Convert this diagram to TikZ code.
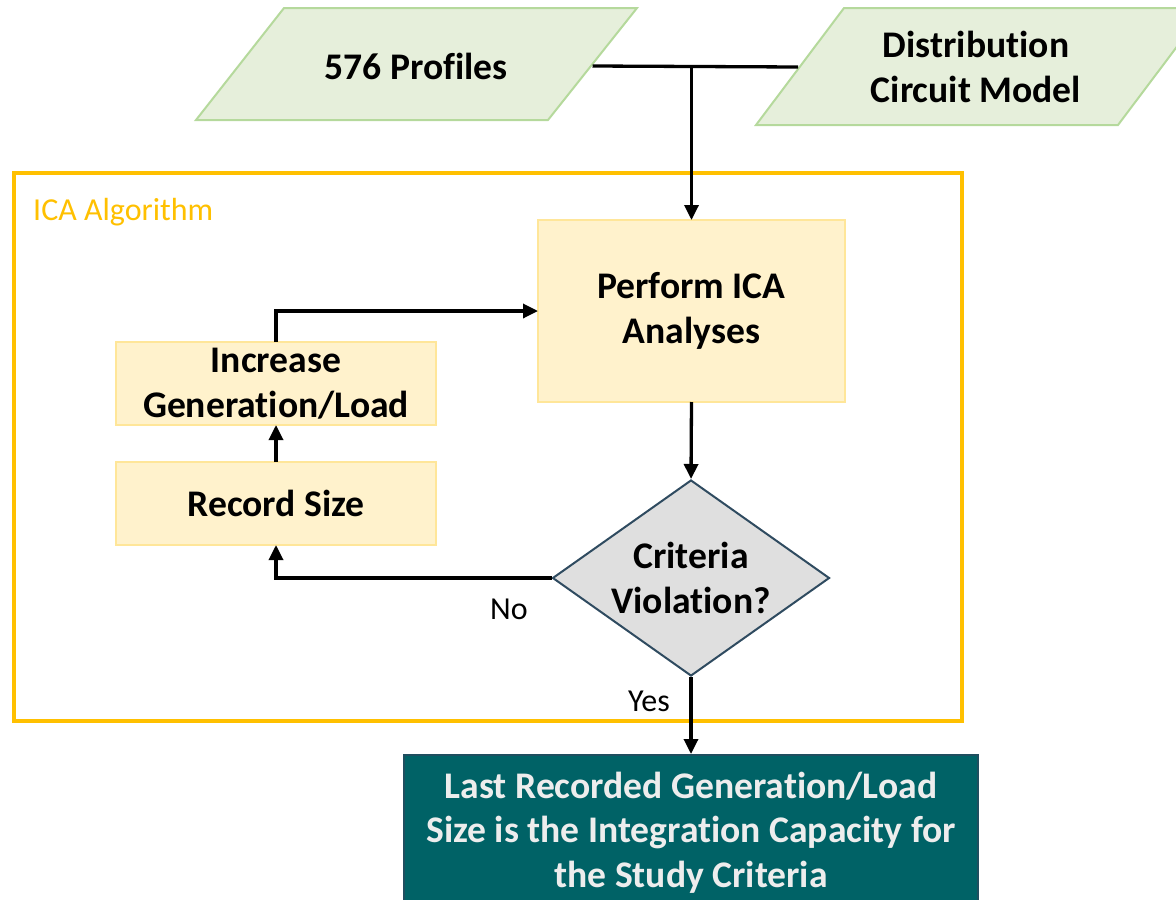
\documentclass[tikz,border=0pt]{standalone}
\usepackage{fontspec}
\setmainfont[Ligatures=NoCommon]{Carlito}
\usetikzlibrary{arrows.meta,shapes.geometric,calc}
\definecolor{pgfill}{HTML}{E6EFDB}
\definecolor{pgline}{HTML}{B5D99C}
\definecolor{icaorange}{HTML}{FFC000}
\definecolor{boxfill}{HTML}{FFF2CC}
\definecolor{boxline}{HTML}{FFE699}
\definecolor{diafill}{HTML}{DFDFDF}
\definecolor{dialine}{HTML}{2F4B60}
\definecolor{tealfill}{HTML}{006266}
\definecolor{tealline}{HTML}{1F4E5F}
\definecolor{lighttext}{HTML}{EDEDED}
\newcommand\bigtxt{\fontsize{37.6}{44.5}\selectfont\bfseries}
\newcommand\smalltxt{\fontsize{32}{38}\selectfont}
\tikzset{
  ghost/.style={inner sep=0pt, outer sep=0pt, align=center, font=\bigtxt},
  stepbox/.style={draw=boxline, fill=boxfill, line width=2pt, inner sep=0pt, outer sep=0pt, align=center, font=\bigtxt},
  conn/.style={line width=3.3pt, -{Triangle[width=14pt,length=15pt]}},
  plainconn/.style={line width=3.3pt},
  lbl/.style={font=\smalltxt, inner sep=0pt}
}
\begin{document}
\begin{tikzpicture}[x=1pt,y=-1pt]
\useasboundingbox (0,0) rectangle (1176,900);
\clip (0,0) rectangle (1176,900);
% input parallelograms
\draw[pgline, fill=pgfill, line width=2pt] (284,8) -- (637,8) -- (548,120) -- (196,120) -- cycle;
\draw[pgline, fill=pgfill, line width=2pt] (844,8) -- (1206,8) -- (1118,125) -- (756,125) -- cycle;
\node[ghost, minimum width=352.5pt, minimum height=108pt] (p1) at (416.25,66) {576 Profiles};
\node[ghost, minimum width=356pt, minimum height=117pt] (p2) at (976,67) {Distribution\\Circuit Model};
% ICA frame
\draw[icaorange, line width=4pt] (14,173) rectangle (962,721);
\node[anchor=west, inner sep=0pt, font=\smalltxt, text=icaorange] (title) at (33,212) {ICA Algorithm};
% process boxes
\node[stepbox, minimum width=307pt, minimum height=182pt] (perf) at (691.5,311) {Perform ICA\\Analyses};
\node[stepbox, minimum width=320pt, minimum height=83pt] (inc) at (276,383.5) {Increase\\Generation/Load};
\node[stepbox, minimum width=320pt, minimum height=83pt] (rec) at (276,503.5) {Record Size};
% decision
\node[diamond, draw=dialine, fill=diafill, line width=2pt, inner sep=0pt, minimum width=277pt, minimum height=196pt] (dia) at (691,578) {};
\node[ghost] (diatext) at (691,578) {Criteria\\Violation?};
% result
\node[draw=tealline, fill=tealfill, line width=2pt, inner sep=0pt, minimum width=574pt, minimum height=155pt, align=center, font=\bigtxt, text=lighttext] (res) at (691,832.5) {Last Recorded Generation/Load\\Size is the Integration Capacity for\\the Study Criteria};
% connectors
\coordinate (j) at (perf.north |- p1.east);
\draw[plainconn] (p1.east) -- (p2.west);
\draw[conn] (j) -- (perf.north);
\draw[conn] (perf.south) -- (dia.north);
\draw[conn] (rec.north) -- (inc.south);
\draw[conn] (inc.north) |- (perf.west);
\draw[conn] (dia.west) -| (rec.south);
\draw[conn] (dia.south) -- (res.north);
\node[lbl] (no) at (509,609) {No};
\node[lbl] (yes) at (649,701) {Yes};
\end{tikzpicture}
\end{document}
